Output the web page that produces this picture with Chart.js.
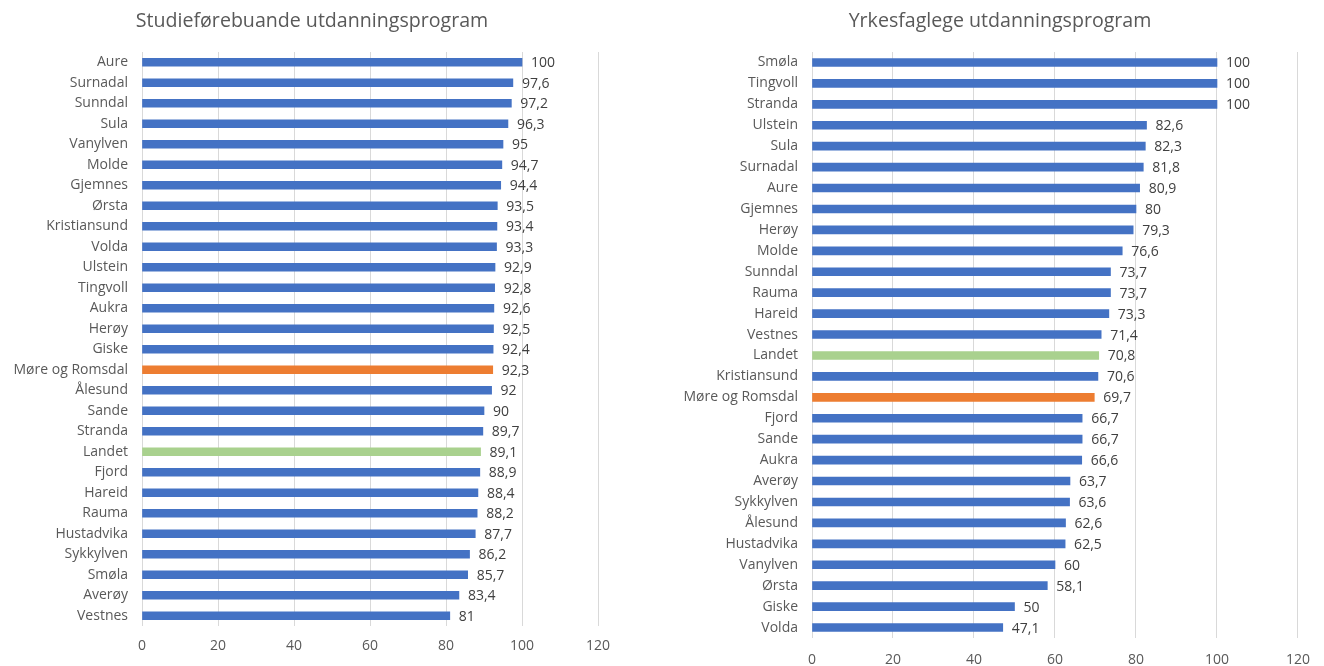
<!DOCTYPE html>
<html>
<head>
<meta charset="utf-8">
<script src="https://cdn.jsdelivr.net/npm/chart.js@4/dist/chart.umd.min.js"></script>
<style>
  html, body { margin: 0; padding: 0; background: #fff; }
  body { width: 1324px; height: 666px; position: relative; overflow: hidden; font-family: "Open Sans", sans-serif; }
  .box { position: absolute; top: 0; width: 662px; height: 666px; }
  .title { position: absolute; top: 6px; font-size: 19.6px; color: #595959; white-space: nowrap; transform: translateX(-50%); }
</style>
</head>
<body>
<div class="box" style="left:0"><canvas id="studie"></canvas></div>
<div class="box" style="left:662px"><canvas id="yrkes"></canvas></div>
<div class="title" style="left:312px">Studieførebuande utdanningsprogram</div>
<div class="title" style="left:1000px">Yrkesfaglege utdanningsprogram</div>
<script>
var studieLabels = ["Aure", "Surnadal", "Sunndal", "Sula", "Vanylven", "Molde", "Gjemnes", "Ørsta",
    "Kristiansund", "Volda", "Ulstein", "Tingvoll", "Aukra", "Herøy", "Giske", "Møre og Romsdal",
    "Ålesund", "Sande", "Stranda", "Landet", "Fjord", "Hareid", "Rauma", "Hustadvika",
    "Sykkylven", "Smøla", "Averøy", "Vestnes"];
var studieValues = [100, 97.6, 97.2, 96.3, 95, 94.7, 94.4, 93.5, 93.4, 93.3, 92.9, 92.8, 92.6, 92.5,
    92.4, 92.3, 92, 90, 89.7, 89.1, 88.9, 88.4, 88.2, 87.7, 86.2, 85.7, 83.4, 81];

var yrkesLabels = ["Smøla", "Tingvoll", "Stranda", "Ulstein", "Sula", "Surnadal", "Aure", "Gjemnes",
    "Herøy", "Molde", "Sunndal", "Rauma", "Hareid", "Vestnes", "Landet", "Kristiansund",
    "Møre og Romsdal", "Fjord", "Sande", "Aukra", "Averøy", "Sykkylven", "Ålesund", "Hustadvika",
    "Vanylven", "Ørsta", "Giske", "Volda"];
var yrkesValues = [100, 100, 100, 82.6, 82.3, 81.8, 80.9, 80, 79.3, 76.6, 73.7, 73.7, 73.3, 71.4,
    70.8, 70.6, 69.7, 66.7, 66.7, 66.6, 63.7, 63.6, 62.6, 62.5, 60, 58.1, 50, 47.1];

var xTicks = [0, 20, 40, 60, 80, 100, 120];

var BLUE = "#4472C4", ORANGE = "#ED7D31", GREEN = "#A9D18E";

function barColor(name) {
    if (name === "Møre og Romsdal") return ORANGE;
    if (name === "Landet") return GREEN;
    return BLUE;
}

// draws the value next to each bar, with decimal comma
var valueLabels = {
    id: "valueLabels",
    afterDatasetsDraw: function(chart) {
        var ctx = chart.ctx;
        var meta = chart.getDatasetMeta(0);
        var data = chart.data.datasets[0].data;
        ctx.save();
        ctx.font = "14px 'Open Sans', sans-serif";
        ctx.fillStyle = "#404040";
        ctx.textAlign = "left";
        ctx.textBaseline = "middle";
        meta.data.forEach(function(bar, i) {
            ctx.fillText(String(data[i]).replace(".", ","), bar.x + 9, bar.y + 1);
        });
        ctx.restore();
    }
};

function constructBar(elem, labels, values, yWidth, padRight, xHeight, tickPad) {
    return new Chart(elem, {
        type: "bar",
        data: {
            labels: labels,
            datasets: [{
                data: values,
                backgroundColor: labels.map(barColor),
                barThickness: 8
            }]
        },
        options: {
            indexAxis: "y",
            responsive: false,
            animation: false,
            layout: { padding: { top: 52, right: padRight, bottom: 0, left: 0 } },
            plugins: {
                legend: { display: false },
                tooltip: { enabled: false }
            },
            scales: {
                x: {
                    min: 0,
                    max: 120,
                    afterBuildTicks: function(scale) {
                        scale.ticks = xTicks.map(function(v) { return { value: v }; });
                    },
                    afterFit: function(scale) { scale.height = xHeight; },
                    grid: { color: "#D9D9D9", drawTicks: false },
                    border: { display: false },
                    ticks: { color: "#595959", font: { size: 14 }, padding: tickPad }
                },
                y: {
                    afterFit: function(scale) { scale.width = yWidth; },
                    grid: { display: false, drawTicks: false },
                    border: { display: false },
                    ticks: { color: "#595959", font: { size: 14 }, padding: 14, autoSkip: false }
                }
            }
        },
        plugins: [valueLabels]
    });
}

window.addEventListener("DOMContentLoaded", function() {
    Chart.defaults.font.family = "'Open Sans', sans-serif";
    var left = document.getElementById("studie");
    var right = document.getElementById("yrkes");
    left.width = 662; left.height = 666;
    right.width = 662; right.height = 666;
    constructBar(left, studieLabels, studieValues, 142, 64, 40, 12);
    constructBar(right, yrkesLabels, yrkesValues, 150, 23, 28, 14);
});
</script>
</body>
</html>
